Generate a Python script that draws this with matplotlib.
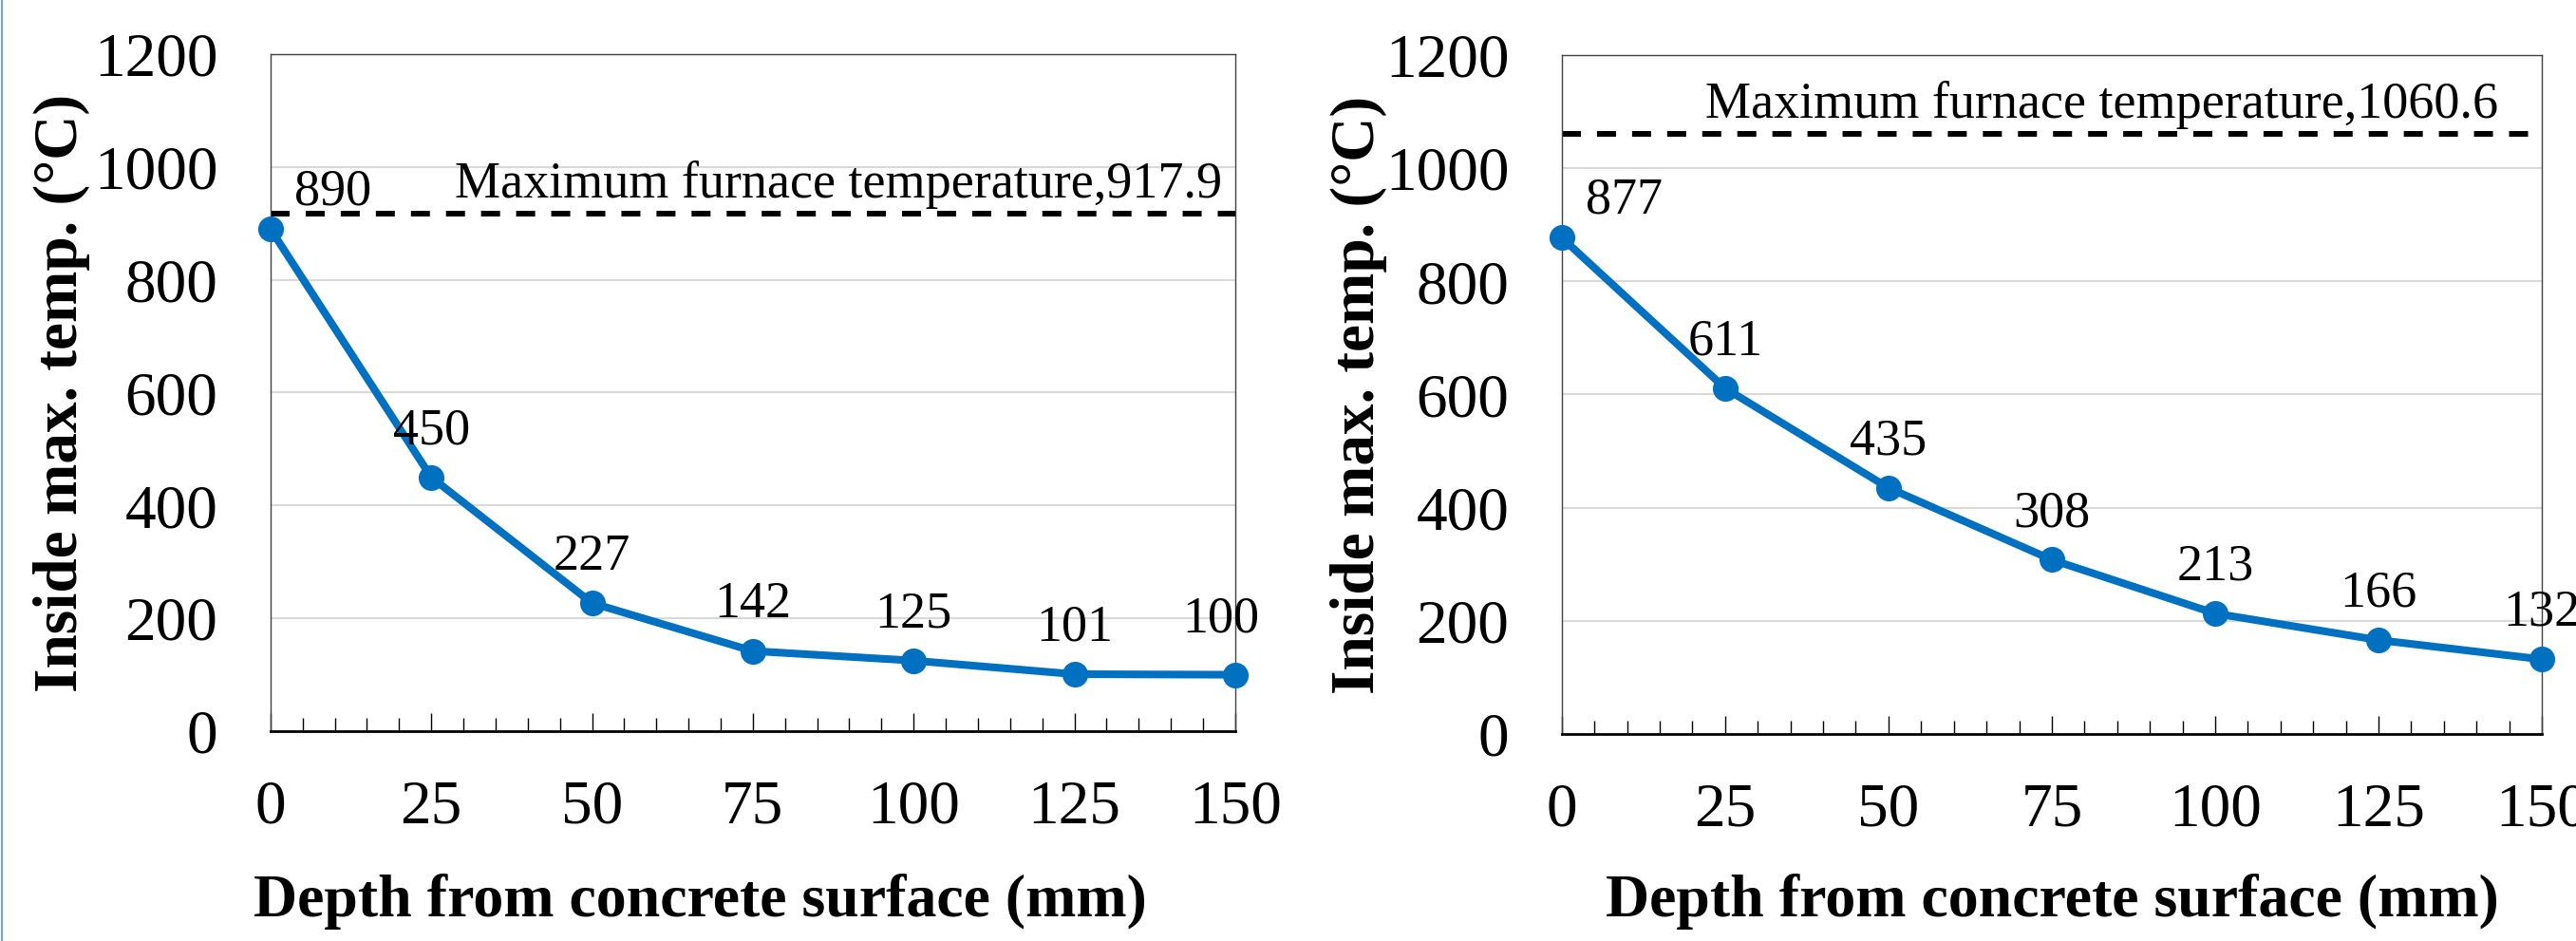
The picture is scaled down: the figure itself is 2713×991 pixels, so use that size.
import matplotlib
matplotlib.use("Agg")
import matplotlib.pyplot as plt
from matplotlib.lines import Line2D
from matplotlib.ticker import MultipleLocator

plt.rcParams["font.family"] = ["Liberation Serif", "DejaVu Serif"]
plt.rcParams["lines.scale_dashes"] = False

depth = [0, 25, 50, 75, 100, 125, 150]
temp_left = [890, 450, 227, 142, 125, 101, 100]
temp_right = [877, 611, 435, 308, 213, 166, 132]
furnace_left = 917.9
furnace_right = 1060.6

BLUE = "#0070C0"
GRID = "#D9D9D9"
FRAME = "#404040"


def style_axis(ax):
    ax.set_xlim(0, 150)
    ax.set_ylim(0, 1200)
    ax.set_xticks(depth)
    ax.xaxis.set_minor_locator(MultipleLocator(5))
    ax.set_yticks(range(0, 1201, 200))
    ax.yaxis.grid(True, color=GRID, lw=1.5)
    ax.set_axisbelow(True)
    for side in ["left", "top", "right"]:
        ax.spines[side].set_color(FRAME)
        ax.spines[side].set_linewidth(1.0)
    ax.spines["bottom"].set_color("black")
    ax.spines["bottom"].set_linewidth(2.0)
    ax.tick_params(axis="x", which="major", direction="in", length=13.5, width=1.0, pad=37, labelsize=47)
    ax.tick_params(axis="x", which="minor", direction="in", length=10, width=1.0)
    ax.tick_params(axis="y", which="major", length=0, pad=40, labelsize=47)


def plot_panel(ax, temps, furnace, furnace_x, label_fix):
    style_axis(ax)
    ax.axhline(furnace, color="black", lw=4.3, dashes=(14.4, 12.2), zorder=2)
    ax.annotate("Maximum furnace temperature,{0}".format(furnace), xy=(furnace_x, furnace),
                xytext=(0, 12), textcoords="offset points", fontsize=39, va="baseline", ha="left")
    ax.plot(depth, temps, color=BLUE, lw=5.8, marker="o", markersize=18.5, clip_on=False, zorder=3)
    for i, (x, y) in enumerate(zip(depth, temps)):
        dx, dy, ha = label_fix.get(i, (0, 25.5, "center"))
        ax.annotate(str(y), xy=(x, y), xytext=(dx, dy), textcoords="offset points",
                    fontsize=39, va="baseline", ha=ha, annotation_clip=False)


fig = plt.figure(figsize=(27.13, 9.91), dpi=100)
ax1 = fig.add_axes([0.1050, 0.2230, 0.3745, 0.7195])
ax2 = fig.add_axes([0.6063, 0.2200, 0.3804, 0.7215])

plot_panel(ax1, temp_left, furnace_left, 28.6, {0: (18, 18.4, "left"), 6: (-10.8, 32.8, "center")})
plot_panel(ax2, temp_right, furnace_right, 21.9, {0: (18, 18.4, "left")})

for ax, lx in [(ax1, -0.187), (ax2, -0.178)]:
    ax.set_ylabel("Inside max. temp. (°C)", fontsize=47, fontweight="bold")
    ax.yaxis.set_label_coords(lx, 0.5)
    ax.set_xlabel("Depth from concrete surface (mm)", fontsize=46, fontweight="bold")

ax1.xaxis.set_label_coords(0.445, -0.210)
ax2.xaxis.set_label_coords(0.5, -0.206)

fig.add_artist(Line2D([0.0008, 0.0008], [0, 1], color="#6FA8DC", lw=1.5, transform=fig.transFigure))

fig.savefig("out.png", dpi=100)
